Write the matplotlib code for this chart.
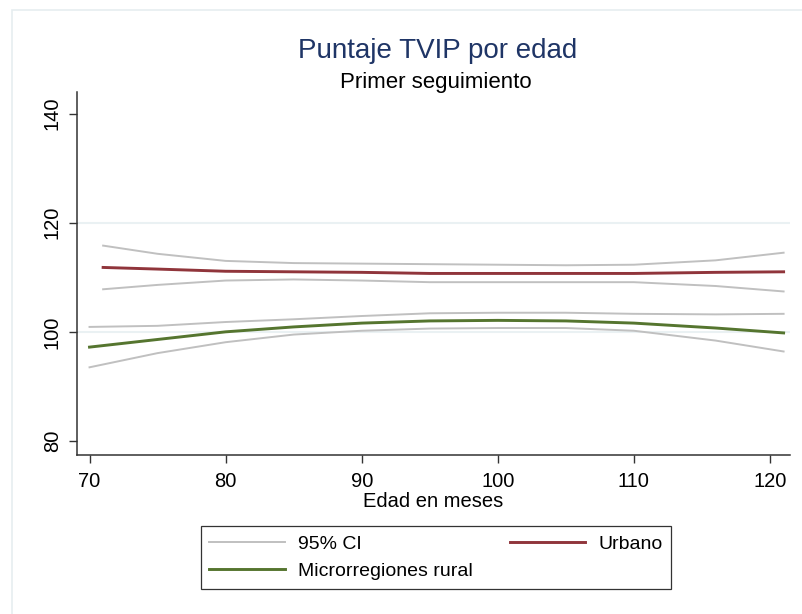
"""Puntaje TVIP por edad, primer seguimiento (Stata-like lpoly plot)."""

import matplotlib

matplotlib.use("Agg")
import matplotlib.pyplot as plt  # noqa: E402
from matplotlib.patches import Rectangle  # noqa: E402

plt.rcParams["font.family"] = ["Liberation Sans", "DejaVu Sans"]

# Urbano: edad (meses), curva suavizada y banda 95%
urb_edad = [71, 75, 80, 85, 90, 95, 100, 105, 110, 116, 121]
urb_pred = [111.8, 111.5, 111.1, 111.0, 110.9, 110.7, 110.7, 110.7, 110.7, 110.9, 111.0]
urb_hi = [115.8, 114.3, 113.0, 112.6, 112.5, 112.4, 112.3, 112.2, 112.3, 113.1, 114.5]
urb_lo = [107.8, 108.6, 109.4, 109.6, 109.4, 109.1, 109.1, 109.1, 109.1, 108.4, 107.4]

# Microrregiones rural
rur_edad = [70, 75, 80, 85, 90, 95, 100, 105, 110, 116, 121]
rur_pred = [97.2, 98.6, 100.0, 100.9, 101.6, 102.0, 102.1, 102.0, 101.6, 100.7, 99.8]
rur_hi = [100.9, 101.1, 101.8, 102.3, 102.9, 103.4, 103.5, 103.5, 103.3, 103.2, 103.3]
rur_lo = [93.5, 96.1, 98.1, 99.5, 100.2, 100.6, 100.7, 100.7, 100.2, 98.4, 96.4]

x_ticks = [70, 80, 90, 100, 110, 120]
y_ticks = [80, 100, 120, 140]
y_grid = [100, 120]

CI_COLOR = "#c0c0c0"
URB_COLOR = "#90353b"
RUR_COLOR = "#55752f"
TITLE_COLOR = "#1f3566"

fig = plt.figure(figsize=(8.02, 6.14), dpi=100)
fig.patches.append(
    Rectangle((12 / 802, -0.1), 1.2, 1 - 10 / 614 + 0.1, transform=fig.transFigure,
              fill=False, edgecolor="#e6edf0", linewidth=1.2)
)

ax = fig.add_axes([77 / 802, 1 - 455 / 614, (790 - 77) / 802, (455 - 92) / 614])
for y in y_grid:
    ax.axhline(y, color="#eaf1f3", linewidth=1.5, zorder=0)

ax.plot(urb_edad, urb_hi, color=CI_COLOR, linewidth=1.4)
ax.plot(urb_edad, urb_lo, color=CI_COLOR, linewidth=1.4)
ax.plot(rur_edad, rur_hi, color=CI_COLOR, linewidth=1.4)
ci_line, = ax.plot(rur_edad, rur_lo, color=CI_COLOR, linewidth=1.4)
urb_line, = ax.plot(urb_edad, urb_pred, color=URB_COLOR, linewidth=2.1)
rur_line, = ax.plot(rur_edad, rur_pred, color=RUR_COLOR, linewidth=2.1)

ax.set_xlim(69.08, 121.47)
ax.set_ylim(77.43, 143.95)
ax.set_xticks(x_ticks)
ax.set_yticks(y_ticks)
ax.set_yticklabels([str(v) for v in y_ticks], rotation=90, va="center")
ax.tick_params(axis="both", direction="out", length=6, width=1, color="#333333",
               labelsize=14.5, pad=5)
ax.tick_params(axis="x", pad=6)
for side in ("top", "right"):
    ax.spines[side].set_visible(False)
for side in ("left", "bottom"):
    ax.spines[side].set_color("#333333")
    ax.spines[side].set_linewidth(1.1)
ax.set_xlabel("Edad en meses", fontsize=14.5, labelpad=1)

fig.text(438 / 802, 1 - 57.5 / 614, "Puntaje TVIP por edad", ha="center", va="baseline",
         fontsize=20, color=TITLE_COLOR)
fig.text(436 / 802, 1 - 88 / 614, "Primer seguimiento", ha="center", va="baseline",
         fontsize=16, color="black")

leg = fig.legend(
    [ci_line, rur_line, urb_line],
    ["95% CI", "Microrregiones rural", "Urbano"],
    ncol=2, loc="center", bbox_to_anchor=(436 / 802, 1 - 557.5 / 614),
    fontsize=14, frameon=True, fancybox=False, edgecolor="black",
    handlelength=3.86, handletextpad=0.67, columnspacing=1.95,
    borderpad=0.46, labelspacing=0.5,
)
leg.get_frame().set_linewidth(0.9)

fig.savefig("out.png", dpi=100)
